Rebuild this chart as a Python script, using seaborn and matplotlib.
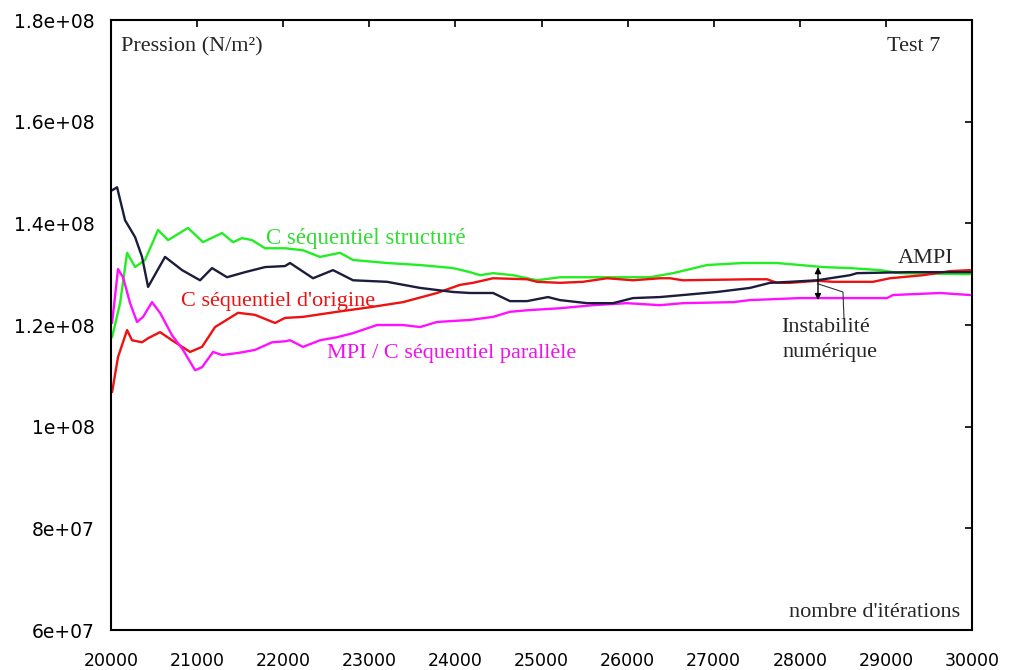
import numpy as np
import pandas as pd
import matplotlib
matplotlib.use("Agg")
import matplotlib.pyplot as plt
from matplotlib.ticker import FuncFormatter, MultipleLocator
import seaborn as sns

# Iterations / pressure (N/m2)
ampi_x = [20012, 20070, 20163, 20279, 20360, 20430, 20627, 20825, 21034, 21173,
          21347, 21556, 21789, 22021, 22079, 22346, 22578, 22811, 23205, 23589,
          23972, 24169, 24437, 24634, 24831, 25075, 25215, 25528, 25830, 26063,
          26376, 26643, 27038, 27421, 27654, 27886, 28199, 28583, 28664, 29245, 29977]
ampi_y = [146.5, 147.1, 140.6, 137.3, 133.4, 127.5, 133.4, 130.8, 128.8, 131.2,
          129.4, 130.4, 131.4, 131.6, 132.2, 129.2, 130.8, 128.8, 128.5, 127.3,
          126.5, 126.3, 126.3, 124.7, 124.7, 125.5, 124.9, 124.3, 124.3, 125.3,
          125.5, 125.9, 126.5, 127.3, 128.3, 128.5, 128.8, 129.8, 130.2, 130.4, 130.4]

struct_x = [20012, 20105, 20186, 20279, 20395, 20546, 20662, 20894, 21068, 21289,
            21417, 21521, 21638, 21789, 22021, 22230, 22427, 22660, 22811, 23205,
            23589, 23972, 24169, 24286, 24437, 24669, 24948, 25215, 25761, 26260,
            26527, 26922, 27340, 27735, 28002, 28269, 28583, 28931, 29163, 29977]
struct_y = [117.6, 124.3, 134.2, 131.4, 132.8, 138.7, 136.7, 139.1, 136.3, 138.1,
            136.3, 137.1, 136.7, 135.1, 135.1, 134.7, 133.4, 134.2, 132.8, 132.2,
            131.8, 131.2, 130.4, 129.8, 130.2, 129.8, 128.8, 129.4, 129.4, 129.4,
            130.2, 131.8, 132.2, 132.2, 131.8, 131.4, 131.2, 130.8, 130.2, 130.0]

orig_x = [20012, 20081, 20186, 20244, 20360, 20430, 20569, 20708, 20918, 21057,
          21208, 21475, 21672, 21905, 22021, 22230, 22625, 23008, 23391, 23786,
          24053, 24204, 24437, 24831, 24948, 25215, 25482, 25761, 26063, 26376,
          26492, 26643, 27421, 27619, 27735, 27886, 28199, 28385, 28850, 29047,
          29431, 29744, 29977]
orig_y = [106.8, 113.7, 119.0, 117.0, 116.6, 117.4, 118.6, 117.0, 114.7, 115.7,
          119.6, 122.4, 122.0, 120.4, 121.4, 121.6, 122.6, 123.5, 124.5, 126.3,
          127.9, 128.3, 129.2, 129.0, 128.5, 128.3, 128.5, 129.2, 128.8, 129.2,
          129.2, 128.8, 129.0, 129.0, 128.3, 128.3, 128.7, 128.5, 128.5, 129.2,
          129.8, 130.6, 130.8]

mpi_x = [20012, 20081, 20139, 20221, 20302, 20372, 20476, 20569, 20708, 20836,
         20976, 21057, 21185, 21289, 21475, 21672, 21870, 22021, 22079, 22230,
         22427, 22625, 22811, 23089, 23391, 23589, 23786, 24169, 24437, 24634,
         24831, 25215, 25598, 25993, 26376, 26643, 27224, 27421, 28002, 28583,
         29013, 29082, 29628, 29977]
mpi_y = [120.4, 131.0, 129.4, 124.3, 120.6, 121.6, 124.5, 122.4, 118.0, 115.1,
         111.1, 111.7, 114.7, 114.1, 114.5, 115.1, 116.6, 116.8, 117.0, 115.7,
         117.0, 117.6, 118.4, 120.0, 120.0, 119.6, 120.6, 121.0, 121.6, 122.6,
         122.9, 123.3, 123.9, 124.3, 123.9, 124.3, 124.5, 124.9, 125.3, 125.3,
         125.3, 125.9, 126.3, 125.9]

series = {
    "AMPI": (ampi_x, ampi_y),
    "C séquentiel structuré": (struct_x, struct_y),
    "C séquentiel d'origine": (orig_x, orig_y),
    "MPI / C séquentiel parallèle": (mpi_x, mpi_y),
}
colors = {
    "AMPI": "#1c1c3c",
    "C séquentiel structuré": "#22ee22",
    "C séquentiel d'origine": "#ee1111",
    "MPI / C séquentiel parallèle": "#ff11ff",
}

frames = []
for name, (xs, ys) in series.items():
    frames.append(pd.DataFrame({"iter": xs, "pression": np.array(ys) * 1e6, "serie": name}))
df = pd.concat(frames, ignore_index=True)

sns.set_style("white")
plt.rcParams["font.family"] = ["DejaVu Sans"]

fig = plt.figure(figsize=(10.16, 6.70), dpi=100)
ax = fig.add_axes([0.1093, 0.0597, 0.8474, 0.9104])

# draw the AMPI curve last so it sits on top
order = ["C séquentiel structuré", "C séquentiel d'origine", "MPI / C séquentiel parallèle", "AMPI"]
for name in order:
    sns.lineplot(data=df[df["serie"] == name], x="iter", y="pression", color=colors[name],
                 linewidth=1.7, estimator=None, sort=False, legend=False, ax=ax)

ax.set_xlim(20000, 30000)
ax.set_ylim(6e7, 1.8e8)
ax.xaxis.set_major_locator(MultipleLocator(1000))
ax.yaxis.set_major_locator(MultipleLocator(2e7))
ax.yaxis.set_major_formatter(FuncFormatter(lambda v, p: "%g" % v))
ax.set_xlabel("")
ax.set_ylabel("")
ax.tick_params(direction="in", length=5, width=1.2, top=True, right=True,
               labelsize=12.5, colors="black")
ax.tick_params(axis="y", pad=12, labelsize=13.5)
ax.tick_params(axis="x", pad=16)
for s in ax.spines.values():
    s.set_color("black")
    s.set_linewidth(1.5)

serif = ["Liberation Serif", "DejaVu Serif"]
ax.text(20110, 1.747e8, "Pression (N/m²)", family=serif, fontsize=16, va="center")
ax.text(29628, 1.747e8, "Test 7", family=serif, fontsize=16, va="center", ha="right")
ax.text(29860, 6.35e7, "nombre d'itérations", family=serif, fontsize=16, va="center", ha="right")
ax.text(21800, 1.370e8, "C séquentiel structuré", family=serif, fontsize=16.5,
        color="#33dd33", va="center")
ax.text(20810, 1.247e8, "C séquentiel d'origine", family=serif, fontsize=16,
        color="#ee1111", va="center")
ax.text(22510, 1.143e8, "MPI / C séquentiel parallèle", family=serif, fontsize=16,
        color="#ee11ee", va="center")
ax.text(29466, 1.330e8, "AMPI", family=serif, fontsize=16, va="center", ha="center")
ax.text(28304, 1.196e8, "Instabilité", family=serif, fontsize=16, va="center", ha="center")
ax.text(28350, 1.145e8, "numérique", family=serif, fontsize=16, va="center", ha="center")

# double arrow showing the gap between curves and its leader line
ax.annotate("", xy=(28211, 1.314e8), xytext=(28211, 1.249e8),
            arrowprops=dict(arrowstyle="<|-|>", color="black", lw=1.0,
                            mutation_scale=9, shrinkA=0, shrinkB=0))
ax.plot([28211, 28501, 28513], [1.281e8, 1.265e8, 1.214e8], color="#333333", lw=0.8)

fig.savefig("out.png", dpi=100)
